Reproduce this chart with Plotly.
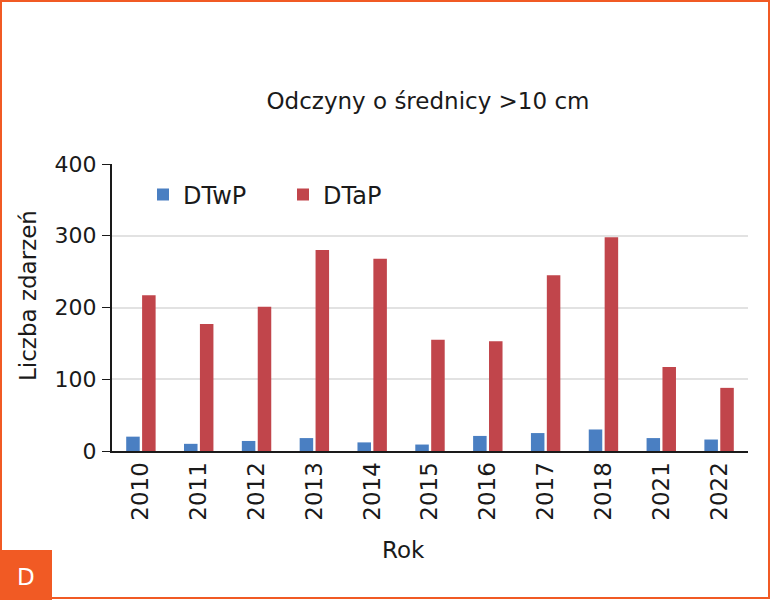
import plotly.graph_objects as go

years = ["2010", "2011", "2012", "2013", "2014", "2015", "2016", "2017", "2018", "2021", "2022"]
dtwp = [20, 10, 14, 18, 12, 9, 21, 25, 30, 18, 16]
dtap = [217, 177, 201, 280, 268, 155, 153, 245, 298, 117, 88]

ORANGE = "#f15a24"
FONT = "DejaVu Sans"
INK = "#1a1a1a"

W, H = 770, 600
# plot area in pixels
L, R, T, B = 112, 748, 164, 451


def px_x(p):
    return (p - L) / (R - L)


def px_y(p):
    return (B - p) / (B - T)


def label(text, x, y, size=23, color=INK, angle=0):
    return dict(text=text, xref="paper", yref="paper", x=px_x(x), y=px_y(y),
                xanchor="center", yanchor="middle", showarrow=False, textangle=angle,
                font=dict(size=size, color=color, family=FONT))


fig = go.Figure()
fig.add_trace(go.Bar(x=years, y=dtwp, name="DTwP", marker=dict(color="#4a7fc2", line=dict(width=0))))
fig.add_trace(go.Bar(x=years, y=dtap, name="DTaP", marker=dict(color="#c1454b", line=dict(width=0))))

fig.update_layout(
    width=W,
    height=H,
    margin=dict(l=L, r=W - R, t=T, b=H - B),
    paper_bgcolor="white",
    plot_bgcolor="white",
    font=dict(family=FONT, color=INK, size=22),
    barmode="group",
    bargap=0.45,
    bargroupgap=0.15,
    title=dict(text="Odczyny o średnicy >10 cm", x=428 / W, xanchor="center",
               y=1 - 101 / H, yanchor="middle", font=dict(size=23)),
    legend=dict(orientation="h", x=px_x(143), y=px_y(195), xanchor="left", yanchor="middle",
                bgcolor="rgba(0,0,0,0)", font=dict(size=24), itemwidth=30,
                traceorder="normal", entrywidthmode="pixels", entrywidth=95),
    showlegend=True,
    xaxis=dict(tickangle=-90, showline=True, linecolor=INK, linewidth=2, ticks="",
               tickfont=dict(size=23), ticklabelstandoff=0),
    yaxis=dict(range=[0, 400], dtick=100, showline=True, linecolor=INK, linewidth=2,
               ticks="outside", ticklen=8, tickcolor=INK, ticklabelstandoff=1,
               gridcolor="#e2e2e2", gridwidth=2, zeroline=False, tickfont=dict(size=22)),
    shapes=[
        dict(type="rect", xref="paper", yref="paper",
             x0=px_x(1), x1=px_x(769), y0=px_y(1), y1=px_y(598),
             line=dict(color=ORANGE, width=2), fillcolor="rgba(0,0,0,0)", layer="above"),
        dict(type="rect", xref="paper", yref="paper",
             x0=px_x(0), x1=px_x(52), y0=px_y(550), y1=px_y(600),
             line=dict(width=0), fillcolor=ORANGE, layer="above"),
    ],
    annotations=[
        label("Rok", 403, 550),
        label("Liczba zdarzeń", 28, 296, angle=-90),
        label("D", 26, 577, color="white"),
    ],
)

# drop the default page margin so the frame sits on the window edge
fig.write_html("out.html", config={"displayModeBar": False},
               post_script="document.body.style.margin = '0';")
